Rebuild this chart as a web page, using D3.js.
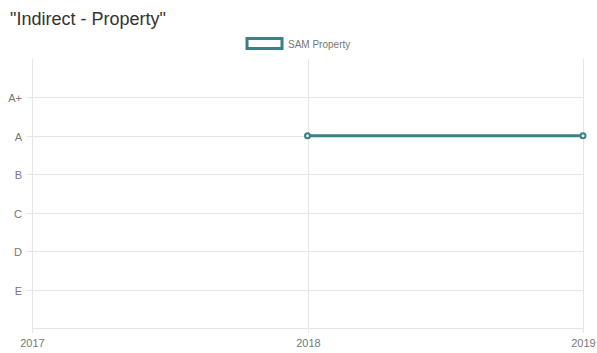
<!DOCTYPE html>
<html>
<head>
<meta charset="utf-8">
<script src="https://cdn.jsdelivr.net/npm/d3@7"></script>
<style>
  html, body { margin: 0; padding: 0; background: #fff; }
  svg { display: block; font-family: "Liberation Sans", Arial, Helvetica, sans-serif; }
</style>
</head>
<body>
<svg id="chart" width="597" height="353"></svg>
<script>
// Rating scale, top to bottom, plus the years on the x axis
const ratings = ["A+", "A", "B", "C", "D", "E"];
const years = [2017, 2018, 2019];
const seriesName = "SAM Property";
const seriesYears = [2018, 2019];
const seriesRatings = ["A", "A"];

const color = "#3b7f87";
const W = 597, H = 353;
const margin = { left: 32, right: 14, top: 59, bottom: 25 };

const svg = d3.select("#chart");

// Title
svg.append("text")
  .attr("x", 10).attr("y", 25)
  .attr("font-size", 18).attr("fill", "#333")
  .text('"Indirect - Property"');

// Legend
const lg = svg.append("g");
lg.append("rect")
  .attr("x", 247).attr("y", 38.5).attr("width", 35).attr("height", 10)
  .attr("fill", "#fff").attr("stroke", color).attr("stroke-width", 3);
lg.append("text")
  .attr("x", 288).attr("y", 47.5)
  .attr("font-size", 10).attr("fill", "#777")
  .text(seriesName);

// Scales: ratings map to numeric levels E=1 … A+=6, with padding levels 0 and 7
const level = r => ratings.length - ratings.indexOf(r);
const x = d3.scaleLinear().domain([years[0], years[years.length - 1]])
  .range([margin.left, W - margin.right]);
const y = d3.scaleLinear().domain([0, ratings.length + 1])
  .range([H - margin.bottom, margin.top]);

const grid = "#e6e6e6";
const axisBottom = y(0);

// Horizontal grid lines with left tick marks
const yg = svg.append("g");
ratings.forEach(r => {
  const yy = Math.round(y(level(r))) + 0.5;
  yg.append("line")
    .attr("x1", margin.left - 5).attr("x2", W - margin.right)
    .attr("y1", yy).attr("y2", yy)
    .attr("stroke", grid).attr("stroke-width", 1);
  yg.append("text")
    .attr("x", margin.left - 10).attr("y", yy + 4)
    .attr("text-anchor", "end").attr("font-size", 11).attr("fill", "#777")
    .text(r);
});
// Bottom axis line
svg.append("line")
  .attr("x1", margin.left).attr("x2", W - margin.right)
  .attr("y1", Math.round(axisBottom) + 0.5).attr("y2", Math.round(axisBottom) + 0.5)
  .attr("stroke", grid);

// Vertical grid lines with bottom tick marks and year labels
const xg = svg.append("g");
years.forEach(yr => {
  const xx = Math.round(x(yr)) + 0.5;
  xg.append("line")
    .attr("x1", xx).attr("x2", xx)
    .attr("y1", margin.top).attr("y2", axisBottom + 5)
    .attr("stroke", grid).attr("stroke-width", 1);
  xg.append("text")
    .attr("x", xx).attr("y", axisBottom + 19)
    .attr("text-anchor", "middle").attr("font-size", 11).attr("fill", "#777")
    .text(yr);
});

// Series line and points
const pts = seriesYears.map((yr, i) => ({ x: yr, r: seriesRatings[i] }));
const line = d3.line().x(d => x(d.x)).y(d => y(level(d.r)));
svg.append("path")
  .datum(pts)
  .attr("d", line)
  .attr("fill", "none").attr("stroke", color).attr("stroke-width", 3);
svg.selectAll("circle.pt").data(pts).enter().append("circle")
  .attr("class", "pt")
  .attr("cx", d => x(d.x)).attr("cy", d => y(level(d.r)))
  .attr("r", 2.5)
  .attr("fill", "#dfeeee").attr("stroke", color).attr("stroke-width", 2);
</script>
</body>
</html>
